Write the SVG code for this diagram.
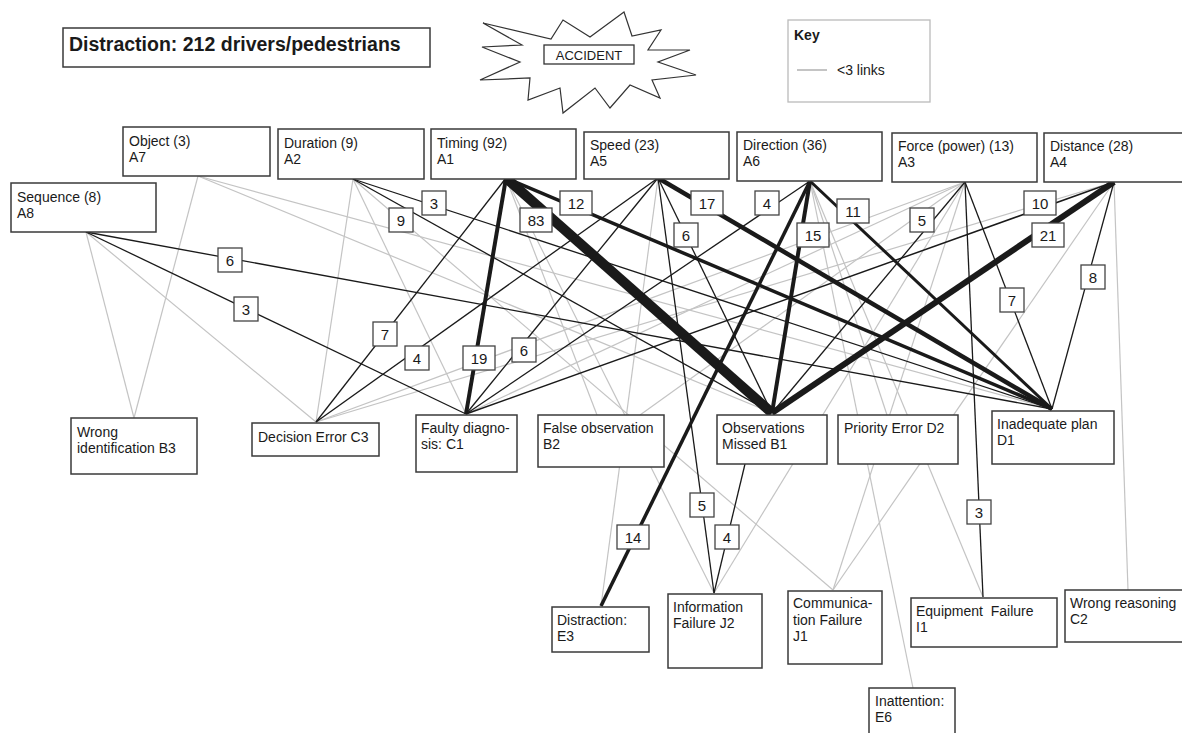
<svg xmlns="http://www.w3.org/2000/svg" width="1182" height="733" viewBox="0 0 1182 733">
<style>
text{font-family:"Liberation Sans",Arial,sans-serif;fill:#1a1a1a}
.node rect{fill:#fff;stroke:#3a3a3a;stroke-width:1.5}
.node text{font-size:14px}
.lt{stroke:#c4c4c4;stroke-width:1.2;fill:none}
.dk{stroke:#1a1a1a;stroke-width:1.3;fill:none}
.lbl rect{fill:#fff;stroke:#444;stroke-width:1.3}
.lbl text{font-size:15px;text-anchor:middle}
</style>
<rect width="1182" height="733" fill="#fff"/>
<g id="title"><rect x="63" y="28" width="367" height="39" fill="#fff" stroke="#3a3a3a" stroke-width="1.5"/><text x="69" y="51" font-size="19.5" font-weight="bold">Distraction: 212 drivers/pedestrians</text></g>
<g id="accident">
<polygon points="624,12 632,36 661,30 648,50 690,50 658,62 696,75 652,80 660,98 630,85 610,108 595,88 563,113 560,88 528,100 530,78 480,80 520,62 482,47 522,45 483,23 551,39 563,20 590,37" fill="#fff" stroke="#333" stroke-width="1.2"/>
<rect x="544" y="45" width="90" height="19" fill="#fff" stroke="#333" stroke-width="1.3"/>
<text x="589" y="60" font-size="13" text-anchor="middle">ACCIDENT</text>
</g>
<g id="key"><rect x="788" y="20" width="142" height="82" fill="#fff" stroke="#bbb" stroke-width="1.3"/><text x="794" y="40" font-size="14" font-weight="bold">Key</text><line x1="797" y1="70" x2="827" y2="70" stroke="#c4c4c4" stroke-width="2"/><text x="837" y="75" font-size="14">&lt;3 links</text></g>
<g id="connectors">
<line class="lt" x1="86" y1="232" x2="134" y2="418"/>
<line class="lt" x1="86" y1="232" x2="316" y2="422"/>
<line class="lt" x1="198" y1="176" x2="134" y2="418"/>
<line class="lt" x1="198" y1="176" x2="1052" y2="409"/>
<line class="lt" x1="198" y1="176" x2="772" y2="413"/>
<line class="lt" x1="353" y1="179" x2="316" y2="422"/>
<line class="lt" x1="353" y1="179" x2="466" y2="414"/>
<line class="lt" x1="353" y1="179" x2="833" y2="590"/>
<line class="lt" x1="506" y1="178" x2="597" y2="415"/>
<line class="lt" x1="506" y1="178" x2="714" y2="593"/>
<line class="lt" x1="658" y1="178" x2="601" y2="606"/>
<line class="lt" x1="1114" y1="182" x2="316" y2="422"/>
<line class="lt" x1="965" y1="182" x2="316" y2="422"/>
<line class="lt" x1="965" y1="182" x2="466" y2="414"/>
<line class="lt" x1="965" y1="182" x2="640" y2="415"/>
<line class="lt" x1="965" y1="182" x2="714" y2="593"/>
<line class="lt" x1="965" y1="182" x2="833" y2="590"/>
<line class="lt" x1="1114" y1="182" x2="833" y2="590"/>
<line class="lt" x1="810" y1="181" x2="913" y2="688"/>
<line class="lt" x1="810" y1="181" x2="983" y2="597"/>
<line class="lt" x1="810" y1="181" x2="887" y2="415"/>
<line class="lt" x1="1114" y1="182" x2="1128" y2="590"/>
<line class="dk" x1="86" y1="232" x2="1052" y2="409"/>
<line class="dk" x1="86" y1="232" x2="466" y2="414"/>
<line class="dk" x1="353" y1="179" x2="772" y2="413"/>
<line class="dk" x1="353" y1="179" x2="1052" y2="409"/>
<line class="dk" x1="506" y1="178" x2="316" y2="422"/>
<line class="dk" x1="506" y1="178" x2="466" y2="414" style="stroke-width:4"/>
<line class="dk" x1="506" y1="178" x2="772" y2="413" style="stroke-width:10"/>
<line class="dk" x1="506" y1="178" x2="1052" y2="409" style="stroke-width:3.5"/>
<line class="dk" x1="658" y1="178" x2="316" y2="422"/>
<line class="dk" x1="658" y1="178" x2="466" y2="414"/>
<line class="dk" x1="658" y1="178" x2="772" y2="413"/>
<line class="dk" x1="658" y1="178" x2="1052" y2="409" style="stroke-width:4.5"/>
<line class="dk" x1="658" y1="178" x2="714" y2="593"/>
<line class="dk" x1="810" y1="181" x2="466" y2="414"/>
<line class="dk" x1="810" y1="181" x2="772" y2="413" style="stroke-width:4"/>
<line class="dk" x1="810" y1="181" x2="1052" y2="409" style="stroke-width:3"/>
<line class="dk" x1="810" y1="181" x2="601" y2="606" style="stroke-width:3.5"/>
<line class="dk" x1="965" y1="182" x2="772" y2="413"/>
<line class="dk" x1="965" y1="182" x2="1052" y2="409"/>
<line class="dk" x1="965" y1="182" x2="983" y2="597"/>
<line class="dk" x1="1114" y1="182" x2="466" y2="414" style="stroke-width:1.5"/>
<line class="dk" x1="1114" y1="182" x2="772" y2="413" style="stroke-width:6"/>
<line class="dk" x1="1114" y1="182" x2="1052" y2="409"/>
<line class="dk" x1="745" y1="464" x2="714" y2="593"/>
<g class="lbl">
<rect x="218" y="248" width="24" height="24"/><text x="230" y="266">6</text>
<rect x="234" y="297" width="24" height="24"/><text x="246" y="315">3</text>
<rect x="389" y="208" width="24" height="24"/><text x="401" y="226">9</text>
<rect x="422" y="191" width="24" height="24"/><text x="434" y="209">3</text>
<rect x="373" y="322" width="24" height="24"/><text x="385" y="340">7</text>
<rect x="405" y="346" width="24" height="24"/><text x="417" y="364">4</text>
<rect x="463" y="346" width="32" height="24"/><text x="479" y="364">19</text>
<rect x="512" y="338" width="24" height="24"/><text x="524" y="356">6</text>
<rect x="520" y="208" width="32" height="24"/><text x="536" y="226">83</text>
<rect x="560" y="191" width="32" height="24"/><text x="576" y="209">12</text>
<rect x="691" y="191" width="32" height="24"/><text x="707" y="209">17</text>
<rect x="674" y="223" width="24" height="24"/><text x="686" y="241">6</text>
<rect x="755" y="191" width="24" height="24"/><text x="767" y="209">4</text>
<rect x="797" y="223" width="32" height="24"/><text x="813" y="241">15</text>
<rect x="837" y="199" width="32" height="24"/><text x="853" y="217">11</text>
<rect x="910" y="208" width="24" height="24"/><text x="922" y="226">5</text>
<rect x="1024" y="191" width="32" height="24"/><text x="1040" y="209">10</text>
<rect x="1032" y="223" width="32" height="24"/><text x="1048" y="241">21</text>
<rect x="1000" y="288" width="24" height="24"/><text x="1012" y="306">7</text>
<rect x="1081" y="265" width="24" height="24"/><text x="1093" y="283">8</text>
<rect x="617" y="525" width="32" height="24"/><text x="633" y="543">14</text>
<rect x="690" y="493" width="24" height="24"/><text x="702" y="511">5</text>
<rect x="715" y="525" width="24" height="24"/><text x="727" y="543">4</text>
<rect x="967" y="500" width="24" height="24"/><text x="979" y="518">3</text>
</g>
</g>
<g id="A7" class="node"><rect x="123" y="127" width="147" height="49"/><text x="129" y="146">Object (3)</text><text x="129" y="162">A7</text></g>
<g id="A2" class="node"><rect x="278" y="129" width="146" height="50"/><text x="284" y="148">Duration (9)</text><text x="284" y="164">A2</text></g>
<g id="A1" class="node"><rect x="431" y="129" width="145" height="50"/><text x="437" y="148">Timing (92)</text><text x="437" y="164">A1</text></g>
<g id="A5" class="node"><rect x="584" y="132" width="145" height="47"/><text x="590" y="150">Speed (23)</text><text x="590" y="166">A5</text></g>
<g id="A6" class="node"><rect x="737" y="132" width="145" height="49"/><text x="743" y="150">Direction (36)</text><text x="743" y="166">A6</text></g>
<g id="A3" class="node"><rect x="892" y="133" width="145" height="49"/><text x="898" y="151">Force (power) (13)</text><text x="898" y="167">A3</text></g>
<g id="A4" class="node"><rect x="1044" y="133" width="150" height="49"/><text x="1050" y="151">Distance (28)</text><text x="1050" y="167">A4</text></g>
<g id="A8" class="node"><rect x="11" y="183" width="145" height="49"/><text x="17" y="202">Sequence (8)</text><text x="17" y="218">A8</text></g>
<g id="B3" class="node"><rect x="71" y="418" width="126" height="56"/><text x="77" y="437">Wrong</text><text x="77" y="453">identification B3</text></g>
<g id="C3" class="node"><rect x="252" y="423" width="127" height="33"/><text x="258" y="442">Decision Error C3</text></g>
<g id="C1" class="node"><rect x="416" y="415" width="101" height="57"/><text x="421" y="433">Faulty diagno-</text><text x="421" y="449">sis: C1</text></g>
<g id="B2" class="node"><rect x="538" y="415" width="126" height="52"/><text x="543" y="433">False observation</text><text x="543" y="449">B2</text></g>
<g id="B1" class="node"><rect x="717" y="415" width="110" height="49"/><text x="722" y="433">Observations</text><text x="722" y="449">Missed B1</text></g>
<g id="D2" class="node"><rect x="838" y="415" width="120" height="49"/><text x="844" y="433">Priority Error D2</text></g>
<g id="D1" class="node"><rect x="992" y="411" width="122" height="53"/><text x="997" y="429">Inadequate plan</text><text x="997" y="445">D1</text></g>
<g id="E3" class="node"><rect x="552" y="607" width="97" height="45"/><text x="557" y="625">Distraction:</text><text x="557" y="641">E3</text></g>
<g id="J2" class="node"><rect x="668" y="594" width="94" height="74"/><text x="673" y="612">Information</text><text x="673" y="628">Failure J2</text></g>
<g id="J1" class="node"><rect x="788" y="591" width="94" height="73"/><text x="793" y="608">Communica-</text><text x="793" y="625">tion Failure</text><text x="793" y="641">J1</text></g>
<g id="I1" class="node"><rect x="911" y="598" width="146" height="49"/><text x="916" y="616">Equipment&#160; Failure</text><text x="916" y="632">I1</text></g>
<g id="C2" class="node"><rect x="1065" y="590" width="125" height="52"/><text x="1070" y="608">Wrong reasoning</text><text x="1070" y="624">C2</text></g>
<g id="E6" class="node"><rect x="869" y="688" width="86" height="55"/><text x="875" y="706">Inattention:</text><text x="875" y="722">E6</text></g>
</svg>
